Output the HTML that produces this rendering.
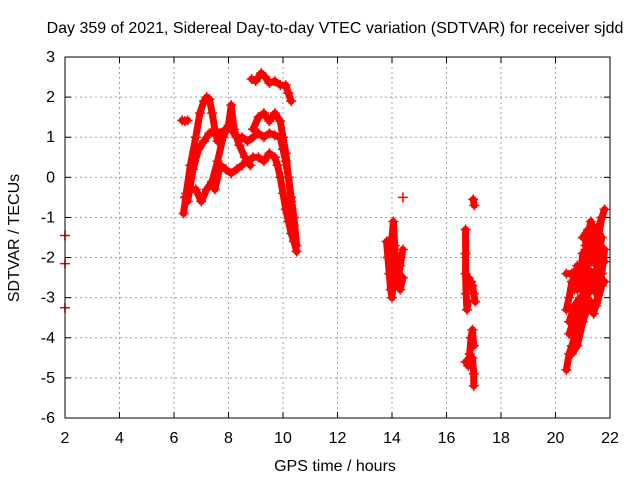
<!DOCTYPE html>
<html><head><meta charset="utf-8"><style>
body{margin:0;background:#fff;}
svg text{font-family:"Liberation Sans",sans-serif;font-size:16px;fill:#000;}
</style></head><body>
<svg id="chart" width="640" height="480" viewBox="0 0 640 480">
<rect width="640" height="480" fill="#fff"/>
<g id="grid"></g>
<g id="marks"></g>
<rect x="65" y="57" width="545" height="361" fill="none" stroke="#000" stroke-width="1"/>
<g id="ticks"></g>
<text x="335" y="33" text-anchor="middle">Day 359 of 2021, Sidereal Day-to-day VTEC variation (SDTVAR) for receiver sjdd</text>
<text x="335" y="471" text-anchor="middle">GPS time / hours</text>
<text x="19" y="238" text-anchor="middle" transform="rotate(-90 19 238)">SDTVAR / TECUs</text>
</svg>
<script>
const xTicks=[2,4,6,8,10,12,14,16,18,20,22];
const yTicks=[3,2,1,0,-1,-2,-3,-4,-5,-6];
const tracks=[
 {t:[2.0],v:[-1.45]},{t:[2.0],v:[-2.15]},{t:[2.0],v:[-3.25]},
 {t:[6.3,6.4,6.5],v:[1.42,1.4,1.42]},
 {t:[6.35,6.45,6.6,6.8,6.95,7.1,7.2,7.3,7.4,7.5,7.6],v:[-0.9,-0.4,0.3,1.0,1.6,1.9,2.0,1.95,1.6,1.2,0.9]},
 {t:[6.4,6.6,6.8,7.0,7.2,7.4,7.6,7.8,8.0,8.1,8.2,8.4,8.6,8.8],v:[-0.5,-0.3,-0.3,-0.6,-0.3,-0.1,0.4,1.0,1.3,1.8,1.2,0.8,0.5,0.3]},
 {t:[6.5,6.7,6.9,7.1,7.3,7.5,7.7,7.9,8.1,8.3,8.5,8.7,8.9,9.1,9.3,9.5,9.7,9.9,10.0,10.1,10.2,10.3,10.4,10.5],v:[-0.6,0.2,0.7,0.9,1.1,1.1,1.1,1.2,1.2,1.0,1.0,0.9,1.0,1.1,1.0,1.1,1.05,1.0,0.7,0.4,0.0,-0.5,-1.0,-1.7]},
 {t:[7.5,7.7,7.9,8.1,8.3,8.5,8.7,8.9,9.1,9.3,9.5,9.7,9.8,9.9,10.0,10.1,10.2,10.3,10.4,10.5],v:[-0.3,0.3,0.2,0.1,0.2,0.3,0.4,0.5,0.5,0.4,0.6,0.5,0.3,0.0,-0.4,-0.8,-1.1,-1.4,-1.6,-1.85]},
 {t:[8.9,9.1,9.3,9.5,9.7,9.9,10.0,10.1,10.2,10.3,10.4],v:[1.2,1.5,1.6,1.4,1.6,1.4,1.0,0.6,0.0,-0.6,-1.2]},
 {t:[8.85,9.0,9.2,9.35,9.5,9.7,9.9,10.1,10.2,10.3],v:[2.45,2.4,2.6,2.5,2.35,2.4,2.3,2.3,2.1,1.9]},
 {t:[13.8,13.85,13.9,13.95,14.0,14.05,14.1],v:[-1.6,-2.0,-2.4,-2.8,-3.0,-2.5,-2.0]},
 {t:[13.9,14.0,14.05,14.1,14.15,14.2,14.3,14.4],v:[-1.9,-1.5,-1.1,-1.7,-2.3,-2.6,-2.2,-1.8]},
 {t:[14.0,14.1,14.2,14.3,14.4],v:[-2.2,-2.7,-2.4,-2.8,-2.5]},
 {t:[14.4],v:[-0.5]},
 {t:[16.7,16.7,16.7,16.72,16.75,16.8],v:[-1.3,-1.9,-2.4,-2.9,-3.3,-3.1]},
 {t:[16.8,16.9,16.95,17.0,17.05],v:[-2.5,-2.6,-2.7,-2.9,-3.1]},
 {t:[16.7,16.8,16.85,16.9,16.95,17.0],v:[-4.6,-4.7,-4.4,-4.0,-3.8,-4.2]},
 {t:[16.95,17.0,17.0],v:[-4.5,-4.9,-5.2]},
 {t:[16.98,17.02],v:[-0.55,-0.7]},
 {t:[20.4,20.5,20.6,20.7,20.8,20.9,21.0,21.1,21.2],v:[-4.8,-4.4,-4.2,-4.0,-3.8,-3.4,-3.0,-2.4,-1.9]},
 {t:[20.4,20.5,20.6,20.7,20.8,20.9,21.0,21.1,21.2,21.3,21.4,21.5,21.6,21.7],v:[-3.3,-3.0,-2.6,-2.8,-2.2,-2.6,-1.9,-2.3,-1.5,-2.1,-1.3,-1.8,-1.2,-1.0]},
 {t:[20.4,20.6,20.8,21.0,21.2,21.4,21.6,21.8],v:[-2.4,-2.4,-2.3,-2.5,-2.3,-2.4,-2.2,-2.1]},
 {t:[20.5,20.7,20.9,21.1,21.3,21.5,21.7,21.8],v:[-3.6,-3.2,-3.0,-2.9,-2.6,-2.9,-2.4,-1.8]},
 {t:[21.0,21.2,21.4,21.6,21.7,21.8],v:[-1.5,-1.3,-1.6,-1.4,-1.0,-0.8]},
 {t:[20.6,20.8,21.0,21.2,21.4,21.6],v:[-4.4,-4.2,-3.6,-3.2,-3.4,-2.8]},
 {t:[20.5,20.7,20.9,21.1,21.3,21.5,21.7],v:[-3.9,-3.5,-3.3,-3.0,-2.8,-2.5,-2.0]},
 {t:[20.8,21.0,21.1,21.2,21.4,21.5,21.7],v:[-2.8,-2.2,-1.8,-2.0,-1.8,-2.2,-1.5]},
 {t:[21.1,21.3,21.5,21.6,21.8],v:[-1.7,-1.1,-1.5,-2.5,-2.6]},
 {t:[20.9,21.1,21.3,21.5,21.7],v:[-3.7,-3.4,-3.1,-3.2,-2.7]},
 {t:[20.7,20.9,21.1,21.3,21.5],v:[-2.5,-2.7,-2.6,-2.4,-2.6]}
];
const X0=65,X1=610,Y0=57,Y1=418;
function xs(t){return X0+(t-2)/20*(X1-X0);}
function ys(v){return Y0+(3-v)/9*(Y1-Y0);}
const NS="http://www.w3.org/2000/svg";
function mk(tag,attrs,parent){const e=document.createElementNS(NS,tag);for(const k in attrs)e.setAttribute(k,attrs[k]);parent.appendChild(e);return e;}
const grid=document.getElementById('grid'),ticks=document.getElementById('ticks'),marks=document.getElementById('marks');
xTicks.forEach(t=>{const x=xs(t);
 if(t>2&&t<22){const g=mk('line',{x1:x,x2:x,y1:Y0,y2:Y1,stroke:'#a0a0a0','stroke-dasharray':'2,3'},grid);}
 mk('line',{x1:x,x2:x,y1:Y1,y2:Y1-6,stroke:'#000'},ticks);mk('line',{x1:x,x2:x,y1:Y0,y2:Y0+6,stroke:'#000'},ticks);
 const l=mk('text',{x:x,y:443,'text-anchor':'middle'},ticks);l.textContent=t;
 
 
});
yTicks.forEach(v=>{const y=ys(v);
 if(v<3&&v>-6){const g=mk('line',{x1:X0,x2:X1,y1:y,y2:y,stroke:'#a0a0a0','stroke-dasharray':'2,3'},grid);}
 mk('line',{x1:X0,x2:X0+6,y1:y,y2:y,stroke:'#000'},ticks);mk('line',{x1:X1,x2:X1-6,y1:y,y2:y,stroke:'#000'},ticks);
 const l=mk('text',{x:55,y:y+5,'text-anchor':'end'},ticks);l.textContent=v;
 
 
});
tracks.forEach(tr=>{
 if(tr.t.length>1){const pts=tr.t.map((t,i)=>xs(t)+','+ys(tr.v[i])).join(' ');
  const pl=mk('polyline',{points:pts,fill:'none',stroke:'#f00','stroke-width':7,'stroke-linejoin':'round','stroke-linecap':'round'},marks);
  
  }
 tr.t.forEach((t,i)=>{const x=xs(t),y=ys(tr.v[i]);
  const p=mk('path',{d:`M${x-5},${y}H${x+5}M${x},${y-5}V${y+5}`,stroke:'#f00','stroke-width':1.5},marks);
  
  
 });
});
</script>
</body></html>
